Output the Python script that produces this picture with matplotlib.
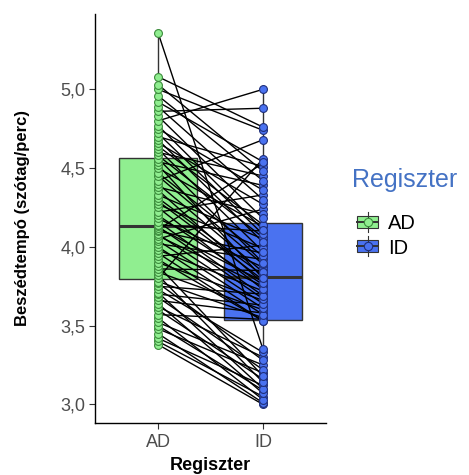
import numpy as np
import matplotlib.pyplot as plt
from matplotlib.patches import Rectangle
from matplotlib.lines import Line2D
from matplotlib.legend_handler import HandlerBase

plt.rcParams['font.family'] = ['Liberation Sans', 'DejaVu Sans']

# speech rate per speaker, paired AD -> ID
groups = ['AD', 'ID']
ad_vals = [3.38, 3.40, 3.42, 3.45, 3.48, 3.50, 3.52, 3.55, 3.57, 3.60,
           3.62, 3.64, 3.66, 3.68, 3.70, 3.71, 3.73, 3.75, 3.77, 3.78,
           3.80, 3.82, 3.84, 3.86, 3.88, 3.90, 3.92, 3.94, 3.96, 3.98,
           4.00, 4.02, 4.04, 4.05, 4.07, 4.08, 4.10, 4.11, 4.12, 4.13,
           4.14, 4.16, 4.18, 4.20, 4.22, 4.25, 4.27, 4.29, 4.31, 4.33,
           4.36, 4.38, 4.40, 4.42, 4.45, 4.47, 4.50, 4.52, 4.54, 4.56,
           4.58, 4.60, 4.62, 4.64, 4.66, 4.68, 4.70, 4.72, 4.75, 4.77,
           4.80, 4.83, 4.86, 4.89, 4.92, 4.96, 5.00, 5.03, 5.08, 5.36]
id_vals = [3.00, 3.05, 3.12, 3.01, 3.20, 3.09, 3.25, 3.03, 3.54, 3.16,
           3.30, 3.07, 3.58, 3.22, 3.63, 3.10, 3.33, 3.70, 3.28, 3.55,
           4.56, 3.14, 3.60, 3.85, 3.18, 3.66, 3.53, 4.01, 3.53, 3.72,
           3.57, 3.92, 3.61, 4.24, 3.75, 3.64, 3.96, 4.53, 3.78, 3.67,
           4.10, 3.69, 3.87, 3.76, 4.33, 3.73, 3.99, 3.79, 3.82, 4.05,
           3.77, 4.21, 3.84, 4.68, 3.89, 3.94, 4.13, 3.80, 4.39, 3.90,
           4.06, 4.45, 3.97, 4.14, 4.27, 4.03, 4.51, 4.08, 4.36, 4.11,
           5.00, 4.18, 4.88, 4.30, 4.54, 4.42, 4.74, 4.48, 4.76, 3.35]
yticks = [3.0, 3.5, 4.0, 4.5, 5.0]

fills = ['#90EE90', '#4A72F0']
edges = ['#3C8C3C', '#1F2F7A']
box_edge = '#333333'

fig = plt.figure(figsize=(4.69, 4.75), dpi=100)
ax = fig.add_axes([0.2026, 0.1095, 0.4925, 0.861])

bp = ax.boxplot([ad_vals, id_vals], positions=[1, 2], widths=0.75,
                patch_artist=True, showcaps=False, showfliers=False,
                whis=1.5, zorder=1)
for patch, fc in zip(bp['boxes'], fills):
    patch.set_facecolor(fc)
    patch.set_edgecolor(box_edge)
    patch.set_linewidth(1.0)
for w in bp['whiskers']:
    w.set_color(box_edge)
    w.set_linewidth(1.0)
for m in bp['medians']:
    m.set_color(box_edge)
    m.set_linewidth(2.2)

# paired lines
for a, b in zip(ad_vals, id_vals):
    ax.plot([1, 2], [a, b], color='black', lw=1.0, zorder=2)

ax.scatter(np.ones(len(ad_vals)), ad_vals, s=32, facecolor=fills[0],
           edgecolor=edges[0], linewidth=0.8, zorder=3)
ax.scatter(np.full(len(id_vals), 2), id_vals, s=32, facecolor=fills[1],
           edgecolor=edges[1], linewidth=0.8, zorder=3)

ax.set_xlim(0.4, 2.6)
ax.set_ylim(2.882, 5.478)
ax.set_xticks([1, 2])
ax.set_xticklabels(groups)
ax.set_yticks(yticks)
ax.set_yticklabels([f'{v:.1f}'.replace('.', ',') for v in yticks])
ax.tick_params(axis='both', labelsize=13, length=4, width=0.8,
               color='#333333', labelcolor='#4D4D4D', pad=3)
ax.tick_params(axis='x', pad=4)
for s in ['top', 'right']:
    ax.spines[s].set_visible(False)
for s in ['left', 'bottom']:
    ax.spines[s].set_linewidth(1.0)
    ax.spines[s].set_color('black')

ax.set_xlabel('Regiszter', fontsize=13, fontweight='bold', labelpad=4)
ax.set_ylabel('Beszédtempó (szótag/perc)', fontsize=12, fontweight='bold',
              labelpad=22)


class BoxKey(HandlerBase):
    def __init__(self, fc, ec):
        super().__init__()
        self.fc = fc
        self.ec = ec

    def create_artists(self, legend, orig, xd, yd, width, height, fontsize, trans):
        cx = xd + width / 2
        cy = yd + height / 2
        rect = Rectangle((xd + 1, yd + 1), width - 2, height - 2,
                         facecolor=self.fc, edgecolor=box_edge, lw=0.8,
                         transform=trans)
        vline = Line2D([cx, cx], [yd - 2, yd + height + 2], color=box_edge,
                       lw=0.8, transform=trans)
        hline = Line2D([xd + 1, xd + width - 1], [cy, cy], color=box_edge,
                       lw=1.4, transform=trans)
        dot = Line2D([cx], [cy], marker='o', markersize=6,
                     markerfacecolor=self.fc, markeredgecolor=self.ec,
                     markeredgewidth=0.8, transform=trans)
        return [rect, vline, hline, dot]


fig.text(352 / 469, 1 - 180 / 475, 'Regiszter', fontsize=18,
         color='#4472C4', ha='left', va='center')

h_ad = Rectangle((0, 0), 1, 1)
h_id = Rectangle((0, 0), 1, 1)
leg = fig.legend([h_ad, h_id], groups, loc='center left',
                 bbox_to_anchor=(356 / 469, 1 - 236 / 475), frameon=False,
                 fontsize=14.5,
                 handler_map={h_ad: BoxKey(fills[0], edges[0]),
                              h_id: BoxKey(fills[1], edges[1])},
                 handlelength=1.15, handleheight=0.75, handletextpad=0.45,
                 labelspacing=0.25, borderaxespad=0, borderpad=0)

fig.savefig('out.png', dpi=100)
